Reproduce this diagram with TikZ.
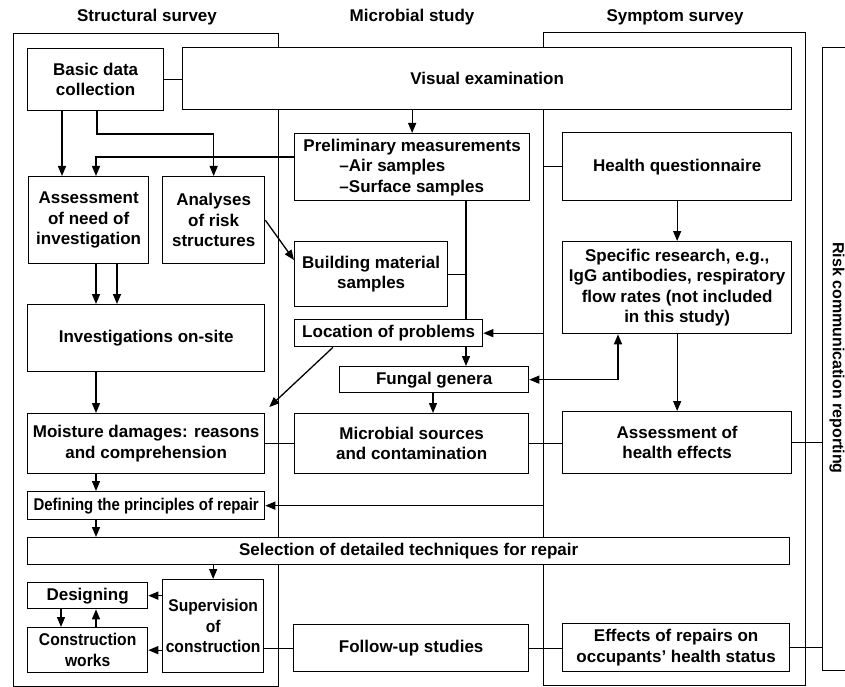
\documentclass[tikz,border=0pt]{standalone}
\usepackage{fontspec}
\setmainfont{Liberation Sans}
\newfontfamily\narrowA{Liberation Sans}[FakeStretch=0.88]
\newfontfamily\narrowB{Liberation Sans}[FakeStretch=0.92]
\usetikzlibrary{arrows.meta,calc}
\newcommand\mybox[7][]{\node[box,#1, minimum width={(#5-#3)*1pt}, minimum height={(#6-#4)*1pt}] (#2) at (#3,#4) {#7};}
\newcommand\myouter[5]{\node[outerbox, minimum width={(#4-#2)*1pt}, minimum height={(#5-#3)*1pt}] (#1) at (#2,#3) {};}
\begin{document}
\begin{tikzpicture}[x=1pt,y=-1pt,
  font=\fontsize{17}{20.5}\selectfont\bfseries,
  box/.style={draw, line width=1.3pt, fill=white, align=center, inner sep=1pt, anchor=north west},
  outerbox/.style={draw, line width=1.3pt, anchor=north west, inner sep=0pt},
  ln/.style={line width=1.3pt},
  arr/.style={line width=1.3pt, -{Triangle[length=10pt,width=8pt]}},
  darr/.style={line width=1.3pt, {Triangle[length=10pt,width=8pt]}-{Triangle[length=10pt,width=8pt]}},
  title/.style={inner sep=0pt}]
\useasboundingbox (0,0) rectangle (845,687);
\fill[white] (0,0) rectangle (845,687);
\clip (0,0) rectangle (845,687);

% titles
\node[title] (ts) at (147,17) {Structural survey};
\node[title] (tm) at (412,17) {Microbial study};
\node[title] (tsy) at (675,17) {Symptom survey};

% outer boxes
\myouter{struct}{13}{33}{278}{686}
\myouter{sym}{543}{32}{805}{685}
\myouter{risk}{822}{47}{880}{670}
\node[rotate=-90, font=\fontsize{16}{19}\selectfont\bfseries, inner sep=0pt] (risklbl) at (837,358) {Risk communication reporting};

% inner boxes
\mybox{bdc}{27}{48}{163}{110}{Basic data\\collection}
\mybox{vis}{182}{47}{791}{109}{Visual examination}
\mybox[align=left]{pre}{294}{133}{529}{200}{Preliminary measurements\\\hspace*{36pt}–Air samples\\\hspace*{36pt}–Surface samples}
\mybox{hq}{562}{132}{791}{200}{Health questionnaire}
\mybox{ass}{28}{176}{148}{263}{Assessment\\of need of\\investigation}
\mybox{ana}{162}{176}{264}{263}{Analyses\\of risk\\structures}
\mybox{bms}{294}{241}{447}{306}{Building material\\samples}
\mybox{spr}{562}{241}{791}{333}{Specific research, e.g.,\\IgG antibodies, respiratory\\flow rates (not included\\in this study)}
\mybox{inv}{27}{304}{264}{371}{Investigations on-site}
\mybox{loc}{294}{319}{482}{346}{Location of problems}
\mybox{fun}{339}{366}{528}{392}{Fungal genera}
\mybox{moi}{27}{413}{264}{473}{Moisture damages: reasons\\and comprehension}
\mybox{mic}{294}{413}{528}{473}{Microbial sources\\and contamination}
\mybox{ahe}{562}{411}{791}{473}{Assessment of\\health effects}
\mybox[font=\fontsize{17}{20.5}\selectfont\narrowA\bfseries]{def}{27}{491}{264}{519}{Defining the principles of repair}
\mybox{sel}{27}{537}{789}{564}{Selection of detailed techniques for repair}
\mybox{des}{27}{582}{147}{608}{Designing}
\mybox[font=\fontsize{17}{20.5}\selectfont\narrowB\bfseries]{cw}{27}{627}{147}{672}{Construction\\works}
\mybox[font=\fontsize{17}{20.5}\selectfont\narrowB\bfseries]{sup}{162}{579}{263}{672}{Supervision\\of\\construction}
\mybox{fol}{293}{624}{528}{671}{Follow-up studies}
\mybox{eff}{562}{623}{789}{671}{Effects of repairs on\\occupants’ health status}

% connectors
\draw[ln] (bdc.east) -- (bdc.east -| vis.west);
\draw[arr] (vis.south -| pre.north) -- (pre.north);
\draw[arr] (bdc.south -| 62,0) -- (ass.north -| 62,0);
\draw[arr] (bdc.south -| 97,0) |- (ana.north |- 0,134) -- (ana.north);
\draw[arr] (pre.west |- 0,157) -| (ass.north -| 96,0);
\draw[arr] (ana.east) -- (bms.west |- 0,260);
\draw[ln] (pre.south -| 466,0) -- (loc.north -| 466,0);
\draw[ln] (bms.east) -- (bms.east -| 466,0);
\draw[arr] (loc.south -| 466,0) -- (fun.north -| 466,0);
\draw[arr] (fun.south -| 433,0) -- (mic.north -| 433,0);
\draw[arr] (loc.south -| 333,0) -- ([shift={(4,-6)}]moi.north east);
\draw[ln] (hq.west) -- (hq.west -| sym.west);
\draw[arr] (loc.east -| sym.west) -- (loc.east);
\draw[darr] (fun.east) -| (spr.south -| 618,0);
\draw[arr] (hq.south) -- (spr.north);
\draw[arr] (spr.south) -- (ahe.north);
\draw[arr] (ass.south -| 96,0) -- (inv.north -| 96,0);
\draw[arr] (ass.south -| 117,0) -- (inv.north -| 117,0);
\draw[arr] (inv.south -| 96,0) -- (moi.north -| 96,0);
\draw[ln] (moi.east) -- (mic.west);
\draw[ln] (mic.east) -- (mic.east -| ahe.west);
\draw[ln] (ahe.east) -- (ahe.east -| risk.west);
\draw[arr] (moi.south -| 96,0) -- (def.north -| 96,0);
\draw[arr] (def.east -| sym.west) -- (def.east);
\draw[arr] (def.south -| 96,0) -- (sel.north -| 96,0);
\draw[arr] (sel.south -| sup.north) -- (sup.north);
\draw[arr] (des.east -| sup.west) -- (des.east);
\draw[arr] (cw.east -| sup.west) -- (cw.east);
\draw[arr] (des.south -| 61,0) -- (cw.north -| 61,0);
\draw[arr] (cw.north -| 96,0) -- (des.south -| 96,0);
\draw[ln] (fol.west -| sup.east) -- (fol.west);
\draw[ln] (fol.east) -- (fol.east -| eff.west);
\draw[ln] (eff.east) -- (eff.east -| risk.west);
\end{tikzpicture}
\end{document}
